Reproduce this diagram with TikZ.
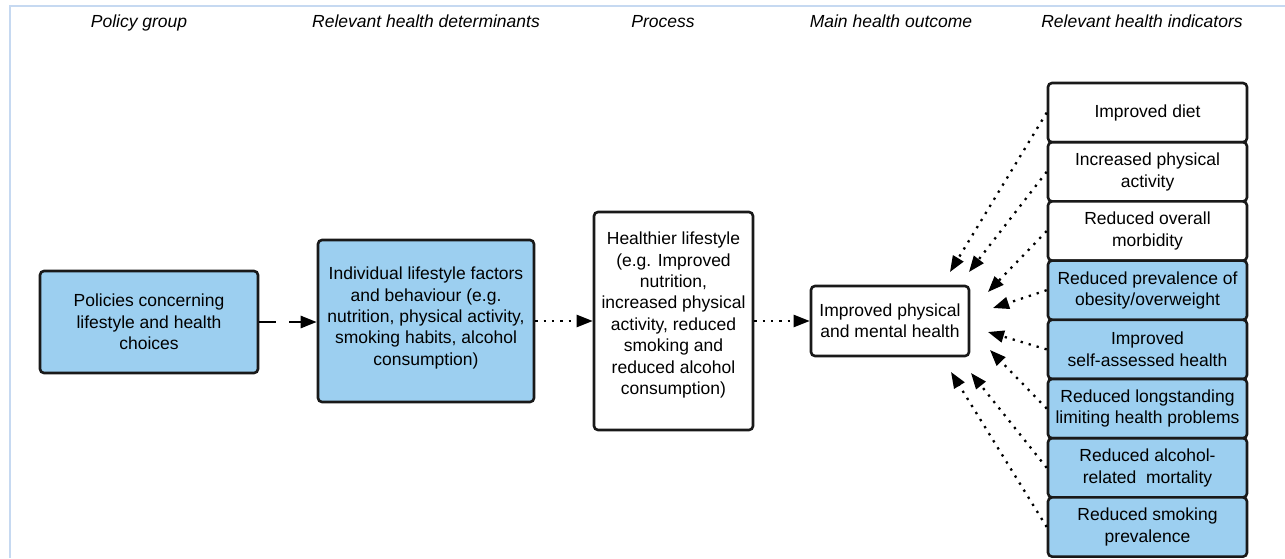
\documentclass[tikz,border=0pt]{standalone}
\usepackage{fontspec}
\setmainfont{Liberation Sans}
\usetikzlibrary{arrows.meta}
\definecolor{boxblue}{RGB}{156,207,240}
\definecolor{frameblue}{RGB}{198,217,241}
\definecolor{edgeink}{RGB}{25,25,25}
\begin{document}
\begin{tikzpicture}[x=1pt,y=-1pt,
  box/.style={draw=edgeink, line width=2.6pt, rounded corners=4pt, align=center,
    inner sep=0pt, font=\fontsize{17.5}{21.4}\selectfont},
  bluebox/.style={box, fill=boxblue},
  whitebox/.style={box, fill=white},
  indbox/.style={minimum width=199pt, minimum height=59.2pt},
  head/.style={font=\fontsize{17.5}{21}\selectfont\itshape, anchor=base},
  tipped/.style={-{Triangle[length=16pt,width=12pt]}},
  dotline/.style={tipped, line width=2.3pt, dash pattern=on 2.3pt off 6pt},
  dashline/.style={tipped, line width=2.6pt, dash pattern=on 17pt off 13pt},
]
\useasboundingbox (0,0) rectangle (1285,558);

% light frame along the top and left edges
\draw[frameblue, line width=2pt] (10,558) -- (10,6) -- (1285,6);

% column headings
\node[head] (h1) at (139,27) {Policy group};
\node[head] (h2) at (426,27) {Relevant health determinants};
\node[head] (h3) at (663,27) {Process};
\node[head] (h4) at (891,27) {Main health outcome};
\node[head] (h5) at (1142,27) {Relevant health indicators};

% main chain
\node[bluebox, minimum width=218pt, minimum height=102pt] (pol) at (149,322)
  {Policies concerning\\lifestyle and health\\choices};
\node[bluebox, minimum width=216pt, minimum height=162pt] (det) at (426,321)
  {\parbox[c][150pt][c]{214pt}{\centering Individual lifestyle factors\\
   and behaviour (e.g.\\nutrition, physical activity,\\smoking habits, alcohol\\consumption)\par\vspace{6pt}}};
\node[whitebox, minimum width=159pt, minimum height=218pt] (proc) at (673.5,321)
  {\parbox[c][200pt][c]{157pt}{\centering Healthier lifestyle\\(e.g. Improved\\nutrition,\\increased physical\\activity, reduced\\smoking and\\reduced alcohol\\consumption)\par\vspace{12pt}}};
\node[whitebox, minimum width=158pt, minimum height=70pt] (out) at (890,321)
  {Improved physical\\and mental health};

\draw[dashline] (pol.east) -- (pol.east -| det.west);
\draw[dotline] (det.east |- proc.west) -- (proc.west);
\draw[dotline] (proc.east) -- (out.west);

% indicator column
\node[whitebox, indbox] (i1) at (1147.5,112.6) {Improved diet};
\node[whitebox, indbox] (i2) at (1147.5,171.8) {Increased physical\\activity};
\node[whitebox, indbox] (i3) at (1147.5,231.0) {Reduced overall\\morbidity};
\node[bluebox, indbox] (i4) at (1147.5,290.2) {Reduced prevalence of\\obesity/overweight};
\node[bluebox, indbox] (i5) at (1147.5,349.4) {Improved\\self-assessed health};
\node[bluebox, indbox] (i6) at (1147.5,408.6) {Reduced longstanding\\limiting health problems};
\node[bluebox, indbox] (i7) at (1147.5,467.8) {Reduced alcohol-\\related\ \ mortality};
\node[bluebox, indbox] (i8) at (1147.5,527.0) {Reduced smoking\\prevalence};

% arrow tips around the outcome box
\coordinate (t1) at (950,272);
\coordinate (t2) at (969,272);
\coordinate (t3) at (988,292);
\coordinate (t4) at (993,308);
\coordinate (t5) at (988,332);
\coordinate (t6) at (990,350);
\coordinate (t7) at (971,373);
\coordinate (t8) at (951,372);

\foreach \i in {1,...,8}
  \draw[dotline] (i\i.west) -- (t\i);
\end{tikzpicture}
\end{document}
